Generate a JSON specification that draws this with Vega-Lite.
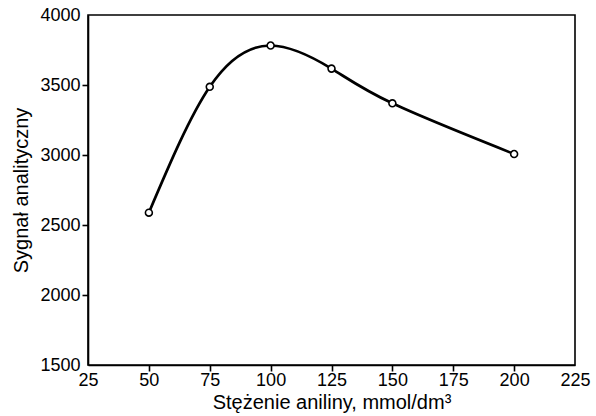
{
  "$schema": "https://vega.github.io/schema/vega-lite/v6.json",
  "width": 487,
  "height": 350,
  "autosize": {"type": "none"},
  "padding": {"left": 88, "top": 15, "right": 21, "bottom": 51},
  "background": "white",
  "config": {
    "font": "Liberation Sans",
    "view": {"stroke": "black", "strokeWidth": 1.6},
    "axis": {
      "grid": false,
      "domainColor": "black",
      "domainWidth": 1.6,
      "tickColor": "black",
      "tickWidth": 1.6,
      "tickSize": 6,
      "labelColor": "black",
      "labelFontSize": 18,
      "labelFont": "Liberation Sans",
      "titleColor": "black",
      "titleFontSize": 20,
      "titleFont": "Liberation Sans",
      "titleFontWeight": "normal"
    }
  },
  "data": {
    "values": [
      {"c": 50, "s": 2588},
      {"c": 75, "s": 3487},
      {"c": 100, "s": 3782},
      {"c": 125, "s": 3617},
      {"c": 150, "s": 3369},
      {"c": 200, "s": 3007}
    ]
  },
  "encoding": {
    "x": {
      "field": "c", "type": "quantitative",
      "scale": {"domain": [25, 225], "nice": false, "zero": false},
      "axis": {"values": [25, 50, 75, 100, 125, 150, 175, 200, 225], "title": "Stężenie aniliny, mmol/dm³", "labelPadding": 0, "titlePadding": 3, "labelFlush": false, "format": "d",
        "tickOpacity": {"condition": {"test": "datum.value == 25 || datum.value == 225", "value": 0}, "value": 1}}
    },
    "y": {
      "field": "s", "type": "quantitative",
      "scale": {"domain": [1500, 4000], "nice": false, "zero": false},
      "axis": {"values": [1500, 2000, 2500, 3000, 3500, 4000], "title": "Sygnał analityczny", "labelPadding": 2, "titlePadding": 8, "format": "d", "labelFlush": false,
        "tickOpacity": {"condition": {"test": "datum.value == 1500 || datum.value == 4000", "value": 0}, "value": 1}}
    }
  },
  "layer": [
    {"mark": {"type": "line", "interpolate": "natural", "color": "black", "strokeWidth": 2.7}},
    {"mark": {"type": "point", "shape": "circle", "filled": true, "fill": "white", "stroke": "black", "strokeWidth": 1.6, "size": 48, "opacity": 1}}
  ]
}
